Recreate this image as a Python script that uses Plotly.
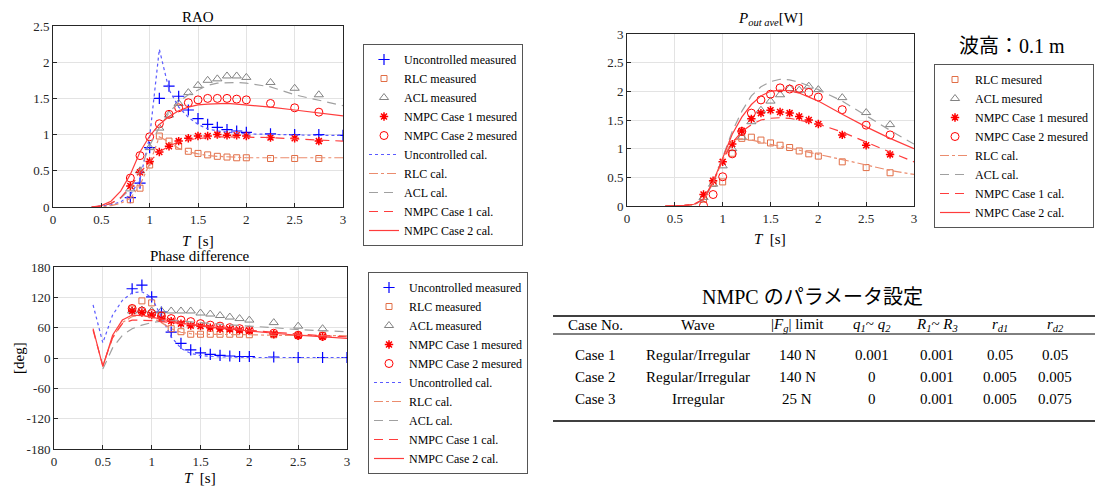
import plotly.graph_objects as go

W, H = 1103, 489
OFF = 8  # page body margin of the browser
FONT = "Liberation Serif"
JFONT = "Liberation Serif, Noto Sans CJK JP"

# ---------------- data ----------------
T_meas = [0.8, 0.9, 1.0, 1.1, 1.2, 1.3, 1.4, 1.5, 1.6, 1.7, 1.8, 1.9, 2.0, 2.25, 2.5, 2.75]
T_meas_unc = [0.8, 0.9, 1.0, 1.1, 1.2, 1.3, 1.4, 1.5, 1.6, 1.7, 1.8, 1.9, 2.0, 2.25, 2.5, 2.75, 3.0]
T_cal = [0.4, 0.5, 0.6, 0.7, 0.8, 0.9, 1.0, 1.1, 1.2, 1.3, 1.4, 1.5, 1.6, 1.7, 1.8, 1.9, 2.0, 2.25, 2.5, 2.75, 3.0]

# RAO measured
rao_unc_m = [0.13, 0.33, 0.82, 1.50, 1.67, 1.53, 1.34, 1.22, 1.14, 1.10, 1.07, 1.05, 1.03, 1.01, 1.00, 1.00, 0.99]
rao_rlc_m = [0.10, 0.26, 0.58, 0.98, 0.91, 0.84, 0.77, 0.74, 0.72, 0.70, 0.69, 0.68, 0.68, 0.67, 0.67, 0.67]
rao_acl_m = [0.25, 0.50, 0.82, 1.09, 1.27, 1.43, 1.58, 1.68, 1.75, 1.77, 1.81, 1.81, 1.79, 1.72, 1.64, 1.55]
rao_n1_m = [0.29, 0.48, 0.63, 0.76, 0.84, 0.91, 0.95, 0.98, 0.98, 1.00, 0.99, 0.99, 0.98, 0.96, 0.95, 0.91]
rao_n2_m = [0.40, 0.71, 0.97, 1.15, 1.28, 1.37, 1.44, 1.48, 1.50, 1.50, 1.50, 1.49, 1.48, 1.43, 1.37, 1.31]
# RAO calculated
rao_unc_c = [0.0, 0.01, 0.03, 0.07, 0.17, 0.38, 0.97, 2.18, 1.62, 1.38, 1.24, 1.14, 1.08, 1.05, 1.03, 1.02, 1.01, 1.00, 1.00, 0.99, 0.99]
rao_rlc_c = [0.0, 0.0, 0.02, 0.05, 0.12, 0.30, 0.60, 0.97, 0.90, 0.81, 0.76, 0.73, 0.71, 0.70, 0.69, 0.69, 0.68, 0.68, 0.68, 0.68, 0.68]
rao_acl_c = [0.0, 0.01, 0.05, 0.12, 0.25, 0.50, 0.85, 1.10, 1.30, 1.45, 1.55, 1.62, 1.68, 1.71, 1.72, 1.72, 1.71, 1.66, 1.55, 1.47, 1.40]
rao_n1_c = [0.0, 0.01, 0.05, 0.13, 0.28, 0.47, 0.63, 0.76, 0.84, 0.90, 0.93, 0.95, 0.96, 0.97, 0.97, 0.97, 0.97, 0.96, 0.94, 0.92, 0.91]
rao_n2_c = [0.0, 0.02, 0.08, 0.22, 0.45, 0.76, 0.98, 1.14, 1.25, 1.33, 1.38, 1.41, 1.42, 1.43, 1.43, 1.42, 1.41, 1.38, 1.34, 1.30, 1.26]

# Power measured
pw_rlc_m = [0.12, 0.40, 0.42, 0.92, 1.18, 1.20, 1.15, 1.10, 1.06, 1.02, 0.96, 0.91, 0.87, 0.77, 0.67, 0.58]
pw_acl_m = [0.15, 0.38, 0.70, 1.00, 1.20, 1.47, 1.67, 1.83, 1.94, 2.05, 2.02, 2.09, 2.03, 1.89, 1.63, 1.42]
pw_n1_m = [0.20, 0.44, 0.77, 1.08, 1.31, 1.52, 1.62, 1.67, 1.64, 1.62, 1.56, 1.50, 1.43, 1.24, 1.06, 0.90]
pw_n2_m = [0.01, 0.20, 0.51, 0.91, 1.30, 1.62, 1.85, 1.95, 2.06, 2.04, 2.05, 1.98, 1.90, 1.68, 1.41, 1.24]
# Power calculated
pw_rlc_c = [0.0, 0.0, 0.0, 0.02, 0.10, 0.40, 0.80, 1.15, 1.17, 1.15, 1.11, 1.07, 1.04, 1.01, 0.97, 0.94, 0.90, 0.81, 0.72, 0.62, 0.55]
pw_acl_c = [0.0, 0.0, 0.01, 0.03, 0.10, 0.40, 0.85, 1.30, 1.65, 1.92, 2.08, 2.17, 2.21, 2.20, 2.16, 2.10, 2.03, 1.83, 1.57, 1.32, 1.08]
pw_n1_c = [0.0, 0.0, 0.01, 0.03, 0.12, 0.42, 0.80, 1.10, 1.30, 1.42, 1.50, 1.53, 1.54, 1.53, 1.50, 1.47, 1.43, 1.29, 1.11, 0.94, 0.77]
pw_n2_c = [0.0, 0.0, 0.01, 0.03, 0.12, 0.42, 0.85, 1.25, 1.55, 1.77, 1.92, 2.00, 2.02, 2.01, 1.97, 1.90, 1.83, 1.60, 1.38, 1.18, 1.00]

# Phase measured
ph_unc_m = [137, 144, 121, 91, 51, 29, 16, 10, 7, 5, 4, 3, 3, 2, 1, 1, 1]
ph_rlc_m = [97, 113, 109, 85, 58, 52, 47, 47, 47, 47, 47, 47, 46, 46, 45, 45]
ph_acl_m = [93, 95, 93, 93, 93, 93, 93, 89, 87, 84, 81, 78, 75, 70, 63, 58]
ph_n1_m = [93, 90, 85, 78, 73, 68, 64, 63, 60, 58, 57, 55, 54, 47, 44, 42]
ph_n2_m = [98, 93, 88, 83, 78, 75, 72, 68, 65, 63, 60, 58, 55, 49, 45, 43]
# Phase calculated
ph_unc_c = [105, 30, 85, 114, 129, 131, 120, 81, 42, 19, 9, 5, 3, 2, 2, 1, 1, 1, 1, 1, 1]
ph_rlc_c = [None, -15, 40, 70, 82, 85, 80, 70, 58, 51, 48, 47, 47, 46, 46, 46, 46, 45, 45, 44, 44]
ph_acl_c = [None, -22, 20, 45, 58, 65, 70, 73, 74, 73, 72, 70, 68, 67, 65, 64, 63, 60, 56, 54, 52]
ph_n1_c = [55, -15, 40, 68, 75, 75, 74, 72, 70, 68, 66, 64, 62, 60, 58, 57, 55, 51, 47, 44, 42]
ph_n2_c = [58, -17, 45, 75, 85, 84, 81, 77, 72, 69, 66, 63, 61, 59, 57, 55, 53, 49, 45, 42, 39]

# Table
tbl_title = "NMPC のパラメータ設定"
tbl_headers = ["Case No.", "Wave", "|<i>F<sub>g</sub></i>| limit", "<i>q<sub>1</sub></i>~ <i>q<sub>2</sub></i>",
               "<i>R<sub>1</sub></i>~ <i>R<sub>3</sub></i>", "<i>r<sub>d1</sub></i>", "<i>r<sub>d2</sub></i>"]
tbl_case = ["Case 1", "Case 2", "Case 3"]
tbl_wave = ["Regular/Irregular", "Regular/Irregular", "Irregular"]
tbl_fg = ["140 N", "140 N", "25 N"]
tbl_q = ["0.001", "0", "0"]
tbl_R = ["0.001", "0.001", "0.001"]
tbl_rd1 = ["0.05", "0.005", "0.005"]
tbl_rd2 = ["0.05", "0.005", "0.075"]

# ---------------- styles ----------------
BLUE = "rgb(0,0,255)"
BLUE_L = "rgb(90,90,255)"
ORANGE = "rgb(225,110,70)"
ORANGE_L = "rgb(235,140,110)"
GRAY = "rgb(130,130,130)"
GRAY_L = "rgb(160,160,160)"
RED = "rgb(255,0,0)"
RED_L = "rgb(255,60,60)"


def px(x):
    return (x - OFF) / W


def py(y):
    return 1 - (y - OFF) / H


fig = go.Figure()


def add_panel(xa, ya, leg, meas, cals):
    for name, xs, ys, sym, col, size, lw in meas:
        fig.add_trace(go.Scatter(
            x=xs, y=ys, mode="markers", name=name, xaxis=xa, yaxis=ya, legend=leg,
            marker=dict(symbol=sym, size=size, color=col, line=dict(color=col, width=lw))))
    for name, ys, col, dash in cals:
        fig.add_trace(go.Scatter(
            x=T_cal, y=ys, mode="lines", name=name, xaxis=xa, yaxis=ya, legend=leg,
            line=dict(color=col, width=1.2, dash=dash), connectgaps=False))


DASH_ACL = "9px,6px"
DASH_N1 = "9px,6px"

M_UNC = ("cross-thin-open", BLUE, 8, 1.2)
M_RLC = ("square-open", ORANGE, 6, 1)
M_ACL = ("triangle-up-open", GRAY, 8, 1)
M_N1 = ("asterisk-open", RED, 7, 1.5)
M_N2 = ("circle-open", RED, 8, 1)

# RAO
add_panel("x", "y", "legend",
          [("Uncontrolled measured", T_meas_unc, rao_unc_m) + M_UNC,
           ("RLC measured", T_meas, rao_rlc_m) + M_RLC,
           ("ACL measured", T_meas, rao_acl_m) + M_ACL,
           ("NMPC Case 1 mesured", T_meas, rao_n1_m) + M_N1,
           ("NMPC Case 2 mesured", T_meas, rao_n2_m) + M_N2],
          [("Uncontrolled cal.", rao_unc_c, BLUE_L, "dot"),
           ("RLC cal.", rao_rlc_c, ORANGE_L, "dashdot"),
           ("ACL cal.", rao_acl_c, GRAY_L, DASH_ACL),
           ("NMPC Case 1 cal.", rao_n1_c, RED_L, DASH_N1),
           ("NMPC Case 2 cal.", rao_n2_c, RED_L, "solid")])

# Power
add_panel("x2", "y2", "legend2",
          [("RLC mesured", T_meas, pw_rlc_m) + M_RLC,
           ("ACL mesured", T_meas, pw_acl_m) + M_ACL,
           ("NMPC Case 1 mesured", T_meas, pw_n1_m) + M_N1,
           ("NMPC Case 2 mesured", T_meas, pw_n2_m) + M_N2],
          [("RLC cal.", pw_rlc_c, ORANGE_L, "dashdot"),
           ("ACL cal.", pw_acl_c, GRAY_L, DASH_ACL),
           ("NMPC Case 1 cal.", pw_n1_c, RED_L, DASH_N1),
           ("NMPC Case 2 cal.", pw_n2_c, RED_L, "solid")])

# Phase
add_panel("x3", "y3", "legend3",
          [("Uncontrolled measured", T_meas_unc, ph_unc_m) + M_UNC,
           ("RLC measured", T_meas, ph_rlc_m) + M_RLC,
           ("ACL measured", T_meas, ph_acl_m) + M_ACL,
           ("NMPC Case 1 mesured", T_meas, ph_n1_m) + M_N1,
           ("NMPC Case 2 mesured", T_meas, ph_n2_m) + M_N2],
          [("Uncontrolled cal.", ph_unc_c, BLUE_L, "dot"),
           ("RLC cal.", ph_rlc_c, ORANGE_L, "dashdot"),
           ("ACL cal.", ph_acl_c, GRAY_L, DASH_ACL),
           ("NMPC Case 1 cal.", ph_n1_c, RED_L, DASH_N1),
           ("NMPC Case 2 cal.", ph_n2_c, RED_L, "solid")])

axis_common = dict(showline=True, mirror=True, linecolor="#262626", linewidth=1,
                   ticks="inside", ticklen=4, tickcolor="#262626", showgrid=True,
                   gridcolor="#e3e3e3", zeroline=False, automargin=False,
                   tickfont=dict(family=FONT, size=13, color="#262626"))
xcommon = dict(axis_common, range=[0, 3], dtick=0.5, tick0=0)

layout = dict(
    width=W, height=H, margin=dict(l=0, r=0, t=0, b=0, autoexpand=False),
    paper_bgcolor="white", plot_bgcolor="white",
    font=dict(family=FONT, size=12, color="black"),
    xaxis=dict(xcommon, domain=[px(53), px(343)], anchor="y"),
    yaxis=dict(axis_common, domain=[py(207), py(26)], anchor="x", range=[0, 2.5], dtick=0.5),
    xaxis2=dict(xcommon, domain=[px(627), px(914)], anchor="y2"),
    yaxis2=dict(axis_common, domain=[py(206), py(34)], anchor="x2", range=[0, 3], dtick=0.5),
    xaxis3=dict(xcommon, domain=[px(54), px(347)], anchor="y3"),
    yaxis3=dict(axis_common, domain=[py(449), py(267)], anchor="x3", range=[-180, 180],
                tickvals=[-180, -120, -60, 0, 60, 120, 180],
                ticktext=["-180", "-120", "-60", "0", "60", "120", "180"]),
)
leg_common = dict(bgcolor="white", bordercolor="#555", borderwidth=1,
                  font=dict(family=FONT, size=12, color="black"),
                  xanchor="left", yanchor="top", tracegroupgap=0, itemwidth=30)
layout["legend"] = dict(leg_common, x=px(363), y=py(44))
layout["legend2"] = dict(leg_common, x=px(934), y=py(64))
layout["legend3"] = dict(leg_common, x=px(368), y=py(272))
fig.update_layout(**layout)

ann = []


def text(x, y, s, size=14, angle=0, family=FONT):
    ann.append(dict(x=px(x), y=py(y), xref="paper", yref="paper", text=s, showarrow=False,
                    xanchor="center", yanchor="middle", textangle=angle,
                    font=dict(family=family, size=size, color="black")))


text(198, 17, "RAO", 15)
text(770, 19, "<i>P</i><sub><i>out ave</i></sub>[W]", 15)
text(200, 256, "Phase difference", 15)
text(198, 241, "<i>T</i>  [s]", 15)
text(770, 239, "<i>T</i>  [s]", 15)
text(200, 478, "<i>T</i>  [s]", 15)
text(19, 358, "[deg]", 15, angle=-90)
text(1012, 46, "波高：0.1 m", 20, family=JFONT)

# table
text(812, 297, tbl_title, 20, family=JFONT)
col_x = [595, 698, 797, 872, 937, 1000, 1055]
for cx, h in zip(col_x, tbl_headers):
    text(cx, 325, h, 15)
cols = [tbl_case, tbl_wave, tbl_fg, tbl_q, tbl_R, tbl_rd1, tbl_rd2]
row_y = [355, 377, 399]
for cx, col in zip(col_x, cols):
    for ry, v in zip(row_y, col):
        text(cx, ry, v, 15)
fig.update_layout(annotations=ann)

shapes = []
for yy, wdt in [(316, 1.5), (334, 1), (421, 1.5)]:
    shapes.append(dict(type="line", xref="paper", yref="paper", x0=px(553), x1=px(1111),
                       y0=py(yy), y1=py(yy), line=dict(color="black", width=wdt)))
fig.update_layout(shapes=shapes)

fig.write_html("out.html")
